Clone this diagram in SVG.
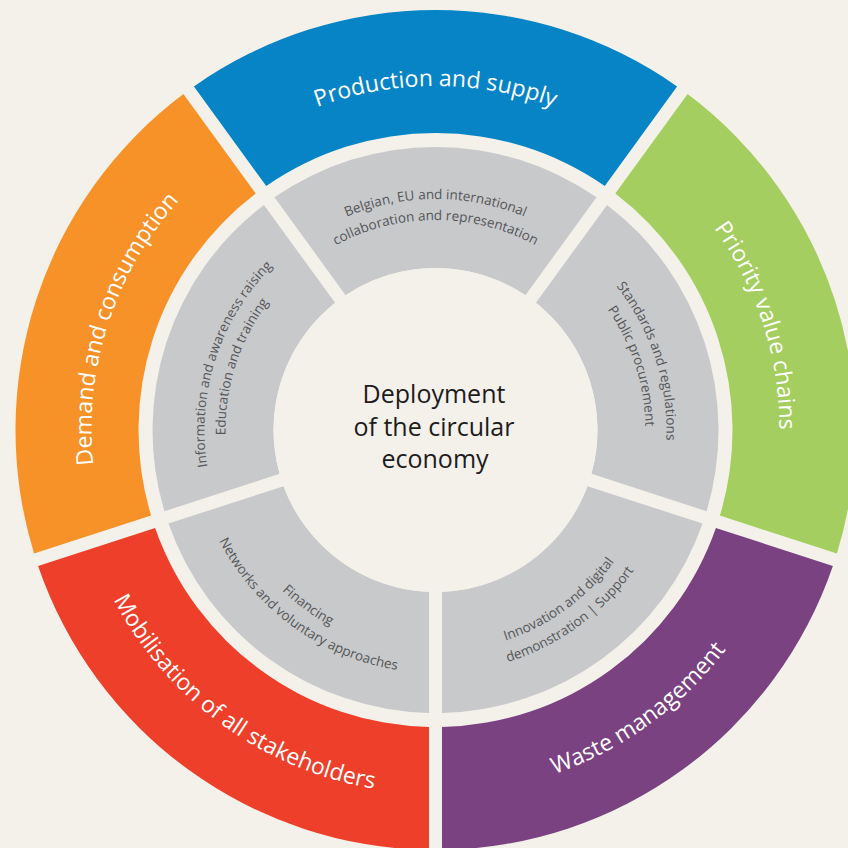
<svg xmlns="http://www.w3.org/2000/svg" xmlns:xlink="http://www.w3.org/1999/xlink" width="848" height="848" viewBox="0 0 848 848">
<style>
.bg{fill:#F4F1EB}
.blue{fill:#0784C6}.green{fill:#A4CE60}.purple{fill:#7B4282}.red{fill:#EE3F2A}.orange{fill:#F79229}.grey{fill:#C8C9CB}
.ol{font-family:"Open Sans","Noto Sans",sans-serif;font-size:23px;fill:#FFFFFF}
.il{font-family:"Open Sans","Noto Sans",sans-serif;font-size:13.5px;fill:#555658}
.cl{font-family:"Open Sans","Noto Sans",sans-serif;font-size:25px;fill:#1E1B1C;text-anchor:middle}
</style>
<defs>
<path id="seg-outer" d="M193.92,86.43 A420,420 0 0 1 677.08,86.43 L604.77,185.96 A297,297 0 0 0 266.23,185.96 Z"/>
<path id="seg-inner" d="M274.46,197.29 A283,283 0 0 1 596.54,197.29 L525.39,295.22 A162,162 0 0 0 345.61,295.22 Z"/>
<path id="cw344" d="M91.5,430 A344,344 0 0 1 779.5,430"/>
<path id="ccw364" d="M71.5,430 A364,364 0 0 0 799.5,430"/>
<path id="cw231" d="M204.5,430 A231,231 0 0 1 666.5,430"/>
<path id="cw210" d="M225.5,430 A210,210 0 0 1 645.5,430"/>
<path id="ccw222" d="M213.5,430 A222,222 0 0 0 657.5,430"/>
<path id="ccw243" d="M192.5,430 A243,243 0 0 0 678.5,430"/>
</defs>
<rect class="bg" x="0" y="0" width="848" height="848"/>

<g id="production-supply">
<use href="#seg-outer" class="blue"/>
<text class="ol"><textPath href="#cw344" startOffset="50%" text-anchor="middle">Production and supply</textPath></text>
</g>
<g id="priority-value-chains">
<use href="#seg-outer" class="green" transform="rotate(72 435.5 430)"/>
<text class="ol" transform="rotate(72 435.5 430)"><textPath href="#cw344" startOffset="50%" text-anchor="middle">Priority value chains</textPath></text>
</g>
<g id="waste-management">
<use href="#seg-outer" class="purple" transform="rotate(144 435.5 430)"/>
<text class="ol" transform="rotate(-36 435.5 430)"><textPath href="#ccw364" startOffset="50%" text-anchor="middle">Waste management</textPath></text>
</g>
<g id="mobilisation-stakeholders">
<use href="#seg-outer" class="red" transform="rotate(216 435.5 430)"/>
<text class="ol" transform="rotate(36 435.5 430)"><textPath href="#ccw364" startOffset="50%" text-anchor="middle">Mobilisation of all stakeholders</textPath></text>
</g>
<g id="demand-consumption">
<use href="#seg-outer" class="orange" transform="rotate(288 435.5 430)"/>
<text class="ol" transform="rotate(288 435.5 430)"><textPath href="#cw344" startOffset="50%" text-anchor="middle">Demand and consumption</textPath></text>
</g>

<g id="collaboration">
<use href="#seg-inner" class="grey"/>
<text class="il"><textPath href="#cw231" startOffset="50%" text-anchor="middle">Belgian, EU and international</textPath></text>
<text class="il"><textPath href="#cw210" startOffset="50%" text-anchor="middle">collaboration and representation</textPath></text>
</g>
<g id="standards">
<use href="#seg-inner" class="grey" transform="rotate(72 435.5 430)"/>
<g transform="rotate(72 435.5 430)">
<text class="il"><textPath href="#cw231" startOffset="50%" text-anchor="middle">Standards and regulations</textPath></text>
<text class="il"><textPath href="#cw210" startOffset="50%" text-anchor="middle">Public procurement</textPath></text>
</g>
</g>
<g id="innovation">
<use href="#seg-inner" class="grey" transform="rotate(144 435.5 430)"/>
<g transform="rotate(-36 435.5 430)">
<text class="il"><textPath href="#ccw222" startOffset="50%" text-anchor="middle">Innovation and digital</textPath></text>
<text class="il"><textPath href="#ccw243" startOffset="50%" text-anchor="middle">demonstration | Support</textPath></text>
</g>
</g>
<g id="financing">
<use href="#seg-inner" class="grey" transform="rotate(216 435.5 430)"/>
<g transform="rotate(36 435.5 430)">
<text class="il"><textPath href="#ccw222" startOffset="50%" text-anchor="middle">Financing</textPath></text>
<text class="il"><textPath href="#ccw243" startOffset="50%" text-anchor="middle">Networks and voluntary approaches</textPath></text>
</g>
</g>
<g id="information">
<use href="#seg-inner" class="grey" transform="rotate(288 435.5 430)"/>
<g transform="rotate(288 435.5 430)">
<text class="il"><textPath href="#cw231" startOffset="50%" text-anchor="middle">Information and awareness raising</textPath></text>
<text class="il"><textPath href="#cw210" startOffset="50%" text-anchor="middle">Education and training</textPath></text>
</g>
</g>

<g id="center">
<circle class="bg" cx="435.5" cy="430" r="162"/>
<text class="cl"><tspan x="434" y="403">Deployment</tspan><tspan x="434" y="436">of the circular</tspan><tspan x="435" y="468">economy</tspan></text>
</g>
</svg>
